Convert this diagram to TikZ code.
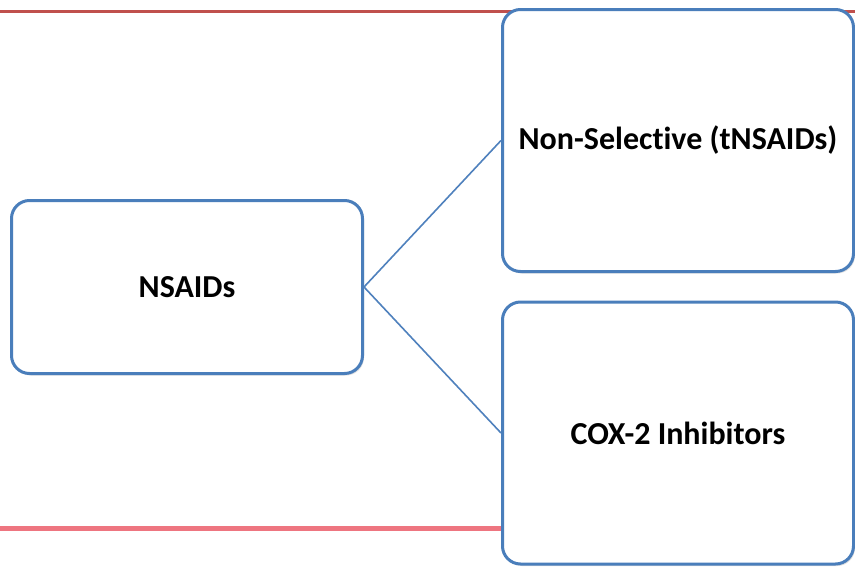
\documentclass[tikz,border=0pt]{standalone}
\usepackage{fontspec}
\setmainfont{Carlito}[Ligatures=NoCommon]
\usetikzlibrary{shadows}
\definecolor{boxblue}{HTML}{4A7EBB}
\definecolor{lineblue}{HTML}{4F81BD}
\definecolor{topred}{HTML}{C0504D}
\definecolor{botred}{HTML}{EE7580}
\begin{document}
\begin{tikzpicture}[x=1pt,y=-1pt,
  box/.style={draw=boxblue, line width=3pt, fill=white, rounded corners=18pt,
    font=\bfseries\fontsize{32}{38}\selectfont, align=center, inner sep=0pt,
    drop shadow={opacity=0.25, shadow xshift=1.5pt, shadow yshift=-2pt}},
  conn/.style={draw=lineblue, line width=1.6pt}]
\useasboundingbox[fill=white] (0,0) rectangle (855,568);
\coordinate (tl) at (0,11);
\coordinate (tr) at (855,11);
\draw[topred, line width=3pt] (tl) -- (tr);
\coordinate (bl) at (0,528);
\coordinate (br) at (505,528);
\draw[botred, line width=5pt] (bl) -- (br);
\node[box, minimum width=351pt, minimum height=262pt] (top) at (678,140.5) {Non-Selective (tNSAIDs)};
\node[box, minimum width=351pt, minimum height=262pt] (bot) at (678,433) {COX-2 Inhibitors};
\node[box, minimum width=351pt, minimum height=173pt] (ns) at (187,287) {NSAIDs};
\draw[conn] (ns.east) -- (top.west);
\draw[conn] (ns.east) -- (bot.west);
\end{tikzpicture}
\end{document}
